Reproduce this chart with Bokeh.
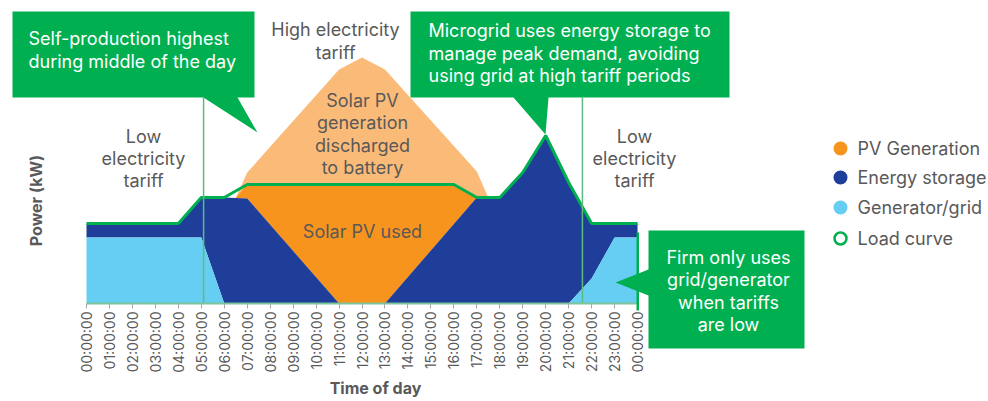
import numpy as np
from math import pi
from bokeh.plotting import figure
from bokeh.models import (ColumnDataSource, Range1d, FixedTicker, GridBox)
from bokeh.core.properties import value
from bokeh.embed import file_html
from bokeh.resources import INLINE

# ---------------- data (kW) ----------------
hours = [0, 1, 2, 3, 4, 5, 6, 6.5, 7, 8, 9, 10, 11, 12, 13, 14, 15, 16, 17, 17.5,
         18, 19, 20, 21, 22, 23, 24]
generator_grid = [33, 33, 33, 33, 33, 33, 0, 0, 0, 0, 0, 0, 0, 0, 0, 0, 0, 0, 0, 0,
                  0, 0, 0, 0, 12.5, 33, 33]
energy_storage = [7, 7, 7, 7, 7, 20, 53, 52.75, 52.5, 39.4, 26.25, 13.1, 0, 0, 0, 13.25,
                  26.5, 39.75, 53, 53, 53, 65.5, 84, 60.5, 27.5, 7, 7]
pv_generation = [0, 0, 0, 0, 0, 0, 0, 0, 13, 39, 65, 91, 117, 123, 117, 91, 65, 39, 13, 0,
                 0, 0, 0, 0, 0, 0, 0]
load_curve = [40, 40, 40, 40, 40, 53, 53, 56.25, 59.5, 59.5, 59.5, 59.5, 59.5, 59.5, 59.5,
              59.5, 59.5, 59.5, 53, 53, 53, 65.5, 84, 60.5, 40, 40, 40]
tariff_change_hours = [5.1, 21.6]
tick_hours = list(range(25))
tick_labels = ["00:00:00", "01:00:00", "02:00:00", "03:00:00", "04:00:00", "05:00:00",
               "06:00:00", "07:00:00", "08:00:00", "09:00:00", "10:00:00", "11:00:00",
               "12:00:00", "13:00:00", "14:00:00", "15:00:00", "16:00:00", "17:00:00",
               "18:00:00", "19:00:00", "20:00:00", "21:00:00", "22:00:00", "23:00:00",
               "00:00:00"]
legend_names = ["PV Generation", "Energy storage", "Generator/grid", "Load curve"]

# ---------------- colours / fonts ----------------
C_PV = "#F7941D"
C_PV_LIGHT = "#FBBB78"
C_STORAGE = "#1F3E99"
C_GRID = "#66CEF3"
C_GREEN = "#00B050"
C_VLINE = "#5DBB82"
C_TEXT = "#595959"
FONT = "Inter"

# ---------------- layout: page pixel -> data helpers ----------------
W, H = 986, 399
BASE_PX = 303
PPH = 22.96   # px per hour
PPK = 2.0     # px per kW
def X(px):
    return (px - 86) / PPH
def Y(py):
    return (BASE_PX - py) / PPK

# main chart (with the time axis)
p = figure(width=W, height=H, output_backend="svg", toolbar_location=None,
           title=None, y_axis_location=None,
           x_range=Range1d(X(0), X(W)), y_range=Range1d(Y(BASE_PX), Y(0)),
           min_border_left=0, min_border_right=0, min_border_top=0,
           min_border_bottom=H - BASE_PX)
p.xgrid.visible = False
p.ygrid.visible = False
p.outline_line_color = None
p.background_fill_color = "white"
p.border_fill_color = "white"

g = np.array(generator_grid, dtype=float)
s = np.array(energy_storage, dtype=float)
pv = np.array(pv_generation, dtype=float)
ld = np.array(load_curve, dtype=float)
base = g + s
pv_used = np.minimum(pv, np.maximum(ld - base, 0))

src = ColumnDataSource(dict(t=hours, zero=[0] * len(hours), grid=g, base=base,
                            pv_top=base + pv, used_top=base + pv_used, load=ld))

p.varea(x="t", y1="base", y2="pv_top", source=src, fill_color=C_PV_LIGHT)
p.varea(x="t", y1="base", y2="used_top", source=src, fill_color=C_PV)
p.varea(x="t", y1="grid", y2="base", source=src, fill_color=C_STORAGE)
p.varea(x="t", y1="zero", y2="grid", source=src, fill_color=C_GRID)
p.line(x="t", y="load", source=src, line_color=C_GREEN, line_width=3)

p.segment(x0=tariff_change_hours, y0=[0, 0], x1=tariff_change_hours,
          y1=[Y(97), Y(97)], line_color=C_VLINE, line_width=1.5)

ax = p.xaxis[0]
ax.ticker = FixedTicker(ticks=tick_hours)
ax.major_label_overrides = {h: lab for h, lab in zip(tick_hours, tick_labels)}
ax.major_label_orientation = pi / 2
ax.bounds = (0, 24)
ax.axis_line_color = "#7CC49A"
ax.axis_line_width = 2
ax.major_tick_line_color = "#A6A6A6"
ax.major_tick_out = 5
ax.major_tick_in = 0
ax.minor_tick_line_color = None
ax.major_label_text_font = FONT
ax.major_label_text_font_size = "14px"
ax.major_label_text_color = C_TEXT
ax.major_label_standoff = 3

# overlay (callouts, notes, legend, axis titles) covering the whole canvas
q = figure(frame_width=W, frame_height=H, output_backend="svg", toolbar_location=None,
           title=None, x_axis_location=None, y_axis_location=None,
           x_range=Range1d(X(0), X(W)), y_range=Range1d(Y(H), Y(0)),
           min_border_left=0, min_border_right=0, min_border_top=0, min_border_bottom=0)
for fig in (p, q):
    try:
        fig.frame_align = False
    except Exception:
        pass
q.xgrid.visible = False
q.ygrid.visible = False
q.outline_line_color = None
q.background_fill_color = None
q.border_fill_color = None

def poly(pts, color=C_GREEN):
    q.patch(x=[X(a) for a, b in pts], y=[Y(b) for a, b in pts],
            fill_color=color, line_color=None)

poly([(12, 11), (254, 11), (254, 97), (237, 97), (257, 132), (203, 97), (12, 97)])
poly([(410, 11), (729, 11), (729, 97), (548, 97), (545, 134), (513, 97), (410, 97)])
poly([(648, 230), (804, 230), (804, 348), (648, 348), (648, 295), (615, 282), (648, 269)])
poly([(636, 232), (638.5, 232), (638.5, 310), (636, 310)])

def label(px, py, text, color=C_TEXT, align="center", size="18px", style="normal", angle=0):
    q.text(x=[X(px)], y=[Y(py)], text=[text], text_align=align,
           text_baseline="middle", text_color=color, text_font=value(FONT),
           text_font_size=size, text_font_style=style, angle=angle)

for i, line in enumerate(["Self-production highest", "during middle of the day"]):
    label(28, 38 + 22.5 * i, line, color="white", align="left")
for i, line in enumerate(["Microgrid uses energy storage to", "manage peak demand, avoiding",
                          "using grid at high tariff periods"]):
    label(428, 30 + 22.5 * i, line, color="white", align="left")
for i, line in enumerate(["Firm only uses", "grid/generator", "when tariffs", "are low"]):
    label(728, 257 + 22.3 * i, line, color="white")

for i, line in enumerate(["High electricity", "tariff"]):
    label(335, 29 + 23 * i, line)
for i, line in enumerate(["Low", "electricity", "tariff"]):
    label(143, 136 + 22 * i, line)
    label(634, 136 + 22 * i, line)
for i, line in enumerate(["Solar PV", "generation", "discharged", "to battery"]):
    label(362, 100 + 22.3 * i, line)
label(362, 231, "Solar PV used")

label(35, 200, "Power (kW)", style="bold", size="16px", angle=pi / 2)
label(375, 387, "Time of day", style="bold", size="16px")

leg_y = [148, 177, 207, 238]
q.scatter(x=[X(840)] * 3, y=[Y(v) for v in leg_y[:3]], size=14, marker="circle",
          fill_color=[C_PV, C_STORAGE, C_GRID], line_color=None)
q.scatter(x=[X(840)], y=[Y(leg_y[3])], size=12, marker="circle", fill_color="white",
          line_color=C_GREEN, line_width=2.5)
for name, yy in zip(legend_names, leg_y):
    label(857, yy, name, align="left")

layout = GridBox(children=[(p, 0, 0), (q, 0, 0)])
open("out.html", "w").write(file_html(layout, INLINE))
